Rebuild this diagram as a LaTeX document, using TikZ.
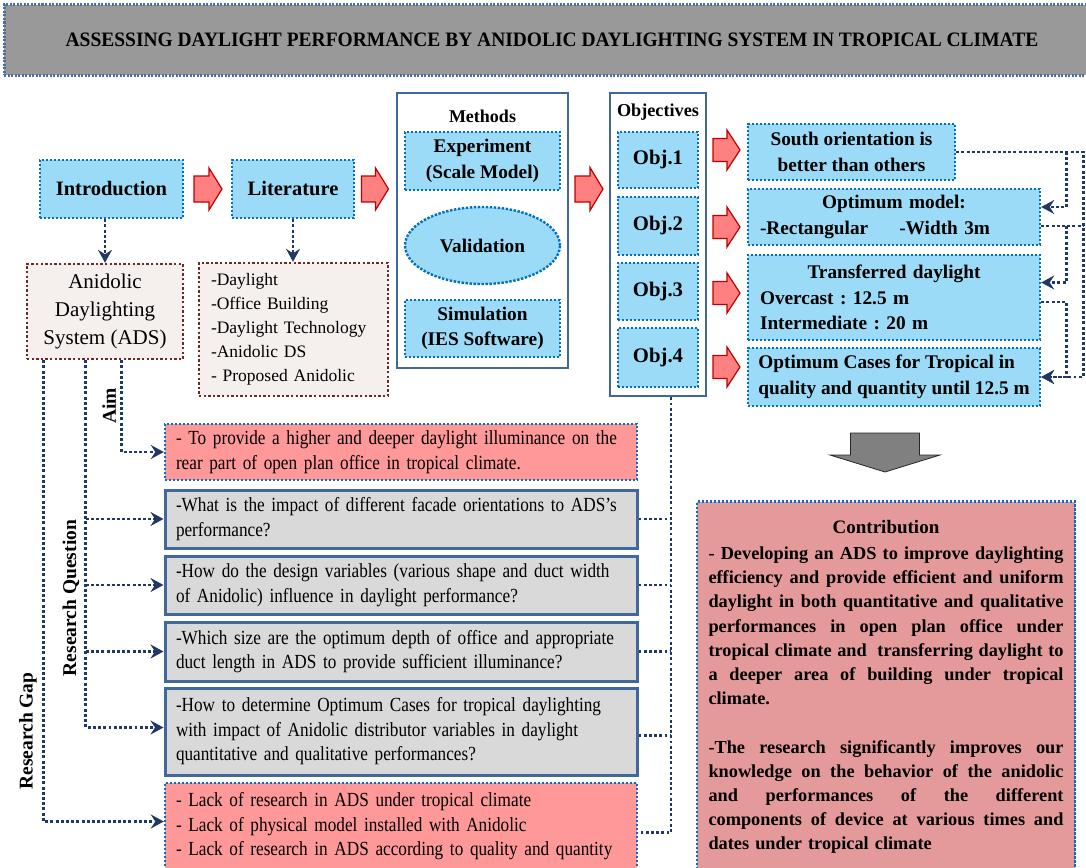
\documentclass[tikz,border=0pt]{standalone}
\usepackage{fontspec}
\setmainfont{Liberation Serif}
\newfontfamily\condfont{Liberation Serif}[FakeStretch=0.86]
\newfontfamily\titlefont{Liberation Serif}[FakeStretch=0.95]
\usetikzlibrary{shapes.geometric,arrows.meta,calc}
\definecolor{lblue}{HTML}{9BDBF7}
\definecolor{bdot}{HTML}{0070C0}
\definecolor{navy}{HTML}{1F3864}
\definecolor{steel}{HTML}{41689A}
\definecolor{redfill}{HTML}{FF8080}
\definecolor{redline}{HTML}{C00000}
\definecolor{pinkfill}{HTML}{FF9999}
\definecolor{grayq}{HTML}{D9D9D9}
\definecolor{contribfill}{HTML}{E49A9A}
\definecolor{adsfill}{HTML}{F5EFED}
\definecolor{adsline}{HTML}{6B2A2A}
\definecolor{titlefill}{HTML}{999999}
\definecolor{titleline}{HTML}{4A6FA5}
\definecolor{arrowgray}{HTML}{808080}
\newcommand\fsz[2]{\fontsize{#1pt}{#2pt}\selectfont}
\newcommand\jl[1]{\leavevmode\hbox to 355pt{#1}}
\tikzset{
  pics/blockarrow/.style n args={4}{code={%
    \draw[pic actions] (-#1/2,-#3/2) -- ({#1/2-#2},-#3/2) -- ({#1/2-#2},-#4/2) -- (#1/2,0) -- ({#1/2-#2},#4/2) -- ({#1/2-#2},#3/2) -- (-#1/2,#3/2) -- cycle;}},
  pics/downarrow/.style={code={%
    \draw[pic actions] (-34.5,-19.5) -- (34.5,-19.5) -- (34.5,2.5) -- (55,2.5) -- (0,19.5) -- (-55,2.5) -- (-34.5,2.5) -- cycle;}}
}
\begin{document}
\frenchspacing
\begin{tikzpicture}[x=1pt,y=-1pt,
  bluebox/.style={rectangle, draw=bdot, fill=lblue, line width=2.4pt, dash pattern=on 2.4pt off 1.6pt, inner sep=0pt, align=center, font=\bfseries\fsz{19.3}{25.5}},
  frame/.style={rectangle, draw=steel, line width=2.6pt, fill=white, inner sep=0pt},
  qbox/.style={rectangle, draw=steel, line width=3pt, fill=grayq, align=left, text width=450pt, inner xsep=11pt, inner ysep=0pt, font=\condfont\fsz{20}{24.5}},
  pinkbox/.style={qbox, draw=bdot, fill=pinkfill, line width=2.4pt, dash pattern=on 2.4pt off 1.6pt},
  adsbox/.style={rectangle, draw=adsline, fill=adsfill, line width=2.4pt, dash pattern=on 2.4pt off 2.2pt, inner sep=0pt},
  conn/.style={draw=navy, line width=2.9pt, dash pattern=on 2.9pt off 2.3pt},
  navyarrow/.style={-{Stealth[length=13pt,width=14pt,inset=4.5pt]}},
  redarr/.style={draw=redline, fill=redfill, line width=1.2pt, line join=miter},
  grayarr/.style={draw=black!85, fill=arrowgray, line width=0.8pt},
  sidelabel/.style={rotate=90, font=\bfseries\fsz{19.5}{22}, inner sep=0pt}
]
\useasboundingbox (0,0) rectangle (1086,867);

% title
\node[rectangle, draw=titleline, fill=titlefill, line width=3pt, dash pattern=on 2pt off 1.5pt, minimum width=1096pt, minimum height=70pt, inner sep=0pt, font=\titlefont\bfseries\fsz{20.5}{24}] (title) at (552,40) {ASSESSING DAYLIGHT PERFORMANCE BY ANIDOLIC DAYLIGHTING SYSTEM IN TROPICAL CLIMATE};

% top row
\node[bluebox, minimum width=143pt, minimum height=58pt, font=\bfseries\fsz{20.5}{24}] (intro) at (111.5,189) {Introduction};
\pic[redarr] (a1) at (208,189) {blockarrow={28}{13}{26}{42}};
\node[bluebox, minimum width=122pt, minimum height=58pt, font=\bfseries\fsz{20.5}{24}] (lit) at (293,189) {Literature};
\pic[redarr] (a2) at (375,189) {blockarrow={27}{13}{26}{42}};

\node[frame, minimum width=171pt, minimum height=275pt] (methods) at (482.5,230.5) {};
\node[font=\bfseries\fsz{18}{20}] (methlbl) at (482.5,116) {Methods};
\node[bluebox, minimum width=155pt, minimum height=58pt] (exp) at (482.5,161) {Experiment\\(Scale Model)};
\node[bluebox, ellipse, minimum width=155pt, minimum height=77pt] (val) at (482.5,245.5) {Validation};
\node[bluebox, minimum width=155pt, minimum height=57pt] (sim) at (482.5,328.5) {Simulation\\(IES Software)};
\pic[redarr] (a3) at (589,189) {blockarrow={28}{13}{26}{43}};

\node[frame, minimum width=96pt, minimum height=303pt] (objs) at (658,244.5) {};
\node[font=\bfseries\fsz{18.2}{20}] (objlbl) at (658,112) {Objectives};
\node[bluebox, minimum width=80pt, minimum height=56pt, font=\bfseries\fsz{20.7}{24}] (o1) at (658,160) {Obj.1};
\node[bluebox, minimum width=80pt, minimum height=58pt, font=\bfseries\fsz{20.7}{24}] (o2) at (658,226) {Obj.2};
\node[bluebox, minimum width=80pt, minimum height=57pt, font=\bfseries\fsz{20.7}{24}] (o3) at (658,291.5) {Obj.3};
\node[bluebox, minimum width=80pt, minimum height=59pt, font=\bfseries\fsz{20.7}{24}] (o4) at (658,357.5) {Obj.4};

\pic[redarr] (s1) at (726.5,150) {blockarrow={27}{13}{23}{40}};
\pic[redarr] (s2) at (726.5,227) {blockarrow={27}{13}{23}{40}};
\pic[redarr] (s3) at (726.5,293) {blockarrow={27}{13}{23}{40}};
\pic[redarr] (s4) at (726.5,367) {blockarrow={27}{13}{23}{40}};

\node[bluebox, minimum width=207pt, minimum height=56pt] (r1) at (851.5,152) {South orientation is\\better than others};
\node[bluebox, text width=268pt, inner xsep=12pt, minimum height=56pt, align=left] (r2) at (894,217) {\makebox[268pt]{Optimum model:}\\-Rectangular\hspace{31pt}-Width 3m};
\node[bluebox, text width=268pt, inner xsep=12pt, minimum height=85pt, align=left] (r3) at (894,297.5) {\makebox[268pt]{Transferred daylight}\\Overcast : 12.5 m\\Intermediate : 20 m};
\node[bluebox, minimum width=292pt, minimum height=58pt, align=left] (r4) at (894,377) {Optimum Cases for Tropical in\\quality and quantity until 12.5 m};

\pic[grayarr] (down) at (885,452.5) {downarrow};

% left boxes
\node[adsbox, minimum width=156pt, minimum height=95pt, align=center, font=\fsz{21}{28}] (ads) at (105,311.5) {Anidolic\\Daylighting\\System (ADS)};
\node[adsbox, text width=165pt, inner xsep=12pt, minimum height=133pt, align=left, font=\fsz{17.5}{24}] (litlist) at (293.5,329.5) {-Daylight\\-Office Building\\-Daylight Technology\\-Anidolic DS\\- Proposed Anidolic};

% lower boxes
\node[pinkbox, minimum height=56pt] (aim) at (401,452) {\mbox{- To provide a higher and deeper daylight illuminance on the}\\\mbox{rear part of open plan office in tropical climate.}};
\node[qbox, minimum height=58pt] (q1) at (401,519) {\mbox{-What is the impact of different facade orientations to ADS’s}\\performance?};
\node[qbox, minimum height=58pt] (q2) at (401,585) {\mbox{-How do the design variables (various shape and duct width}\\\mbox{of Anidolic) influence in daylight performance?}};
\node[qbox, minimum height=59pt] (q3) at (401,651.5) {\mbox{-Which size are the optimum depth of office and appropriate}\\\mbox{duct length in ADS to provide sufficient illuminance?}};
\node[qbox, minimum height=87pt] (q4) at (401,731.5) {\mbox{-How to determine Optimum Cases for tropical daylighting}\\\mbox{with impact of Anidolic distributor variables in daylight}\\\mbox{quantitative and qualitative performances?}};
\node[pinkbox, minimum height=87pt] (gap) at (401,826.5) {\mbox{- Lack of research in ADS under tropical climate}\\\mbox{- Lack of physical model installed with Anidolic}\\\mbox{- Lack of research in ADS according to quality and quantity}};

% contribution
\node[rectangle, draw=bdot, fill=contribfill, line width=2.4pt, dash pattern=on 2.4pt off 1.6pt, minimum width=378pt, minimum height=371pt, text width=355pt, inner xsep=11.5pt, inner ysep=0pt, align=left, font=\bfseries\fsz{18.3}{24.2}] (contrib) at (886,687) {%
\makebox[355pt]{\fsz{19}{24.2}Contribution}\\[2pt]
\jl{-\hfill Developing\hfill an\hfill ADS\hfill to\hfill improve\hfill daylighting}\\
\jl{efficiency\hfill and\hfill provide\hfill efficient\hfill and\hfill uniform}\\
\jl{daylight\hfill in\hfill both\hfill quantitative\hfill and\hfill qualitative}\\
\jl{performances\hfill in\hfill open\hfill plan\hfill office\hfill under}\\
\jl{tropical\hfill climate\hfill and\hspace{5pt}\hfill transferring\hfill daylight\hfill to}\\
\jl{a\hfill deeper\hfill area\hfill of\hfill building\hfill under\hfill tropical}\\
climate.\\[24.2pt]
\jl{-The\hfill research\hfill significantly\hfill improves\hfill our}\\
\jl{knowledge\hfill on\hfill the\hfill behavior\hfill of\hfill the\hfill anidolic}\\
\jl{and\hfill performances\hfill of\hfill the\hfill different}\\
\jl{components\hfill of\hfill device\hfill at\hfill various\hfill times\hfill and}\\
dates under tropical climate};

% side labels
\node[sidelabel] (aimlbl) at (109,406) {Aim};
\node[sidelabel] (rqlbl) at (71,598) {Research Question};
\node[sidelabel] (gaplbl) at (28,731) {Research Gap};

% connectors
\draw[conn,navyarrow] (intro.south -| ads.north) -- (ads.north);
\draw[conn,navyarrow] (lit.south) -- (lit.south |- litlist.north);

\coordinate (xaim) at ([xshift=96pt]ads.south west);
\coordinate (xrq) at ([xshift=60pt]ads.south west);
\coordinate (xgap) at ([xshift=18pt]ads.south west);
\draw[conn,navyarrow] (xaim) |- (aim.west);
\draw[conn,navyarrow] (xrq) |- ([yshift=4pt]q4.west);
\foreach \q in {q1,q2,q3} \draw[conn,navyarrow] (xrq |- \q.west) -- (\q.west);
\draw[conn,navyarrow] (xgap) |- ([yshift=5pt]gap.west);

\coordinate (xo) at ([xshift=13pt]objs.south);
\draw[conn] (xo) |- ([yshift=-6pt]gap.east);
\foreach \q in {q1,q2,q3} \draw[conn] (\q.east) -- (\q.east -| xo);
\draw[conn] ([yshift=-4pt]q4.east) -- ([yshift=-4pt]q4.east -| xo);

\coordinate (xa) at ([xshift=25pt]r2.east);
\coordinate (xb) at ([xshift=42pt]r2.east);
\draw[conn,navyarrow] (r1.east) -- (r1.east -| xb) |- (r4.east);
\draw[conn,navyarrow] (r1.east -| xa) |- ([yshift=10pt]r2.east);
\draw[conn] ([yshift=-9pt]r2.east) -- ([yshift=-9pt]r2.east -| xb);
\draw[conn,navyarrow] ([yshift=-9pt]r2.east -| xa) |- ([yshift=15pt]r3.east);
\draw[conn,navyarrow] ([yshift=-4.5pt]r3.east) -| (xa |- r4.east) -- (r4.east);
\end{tikzpicture}
\end{document}
